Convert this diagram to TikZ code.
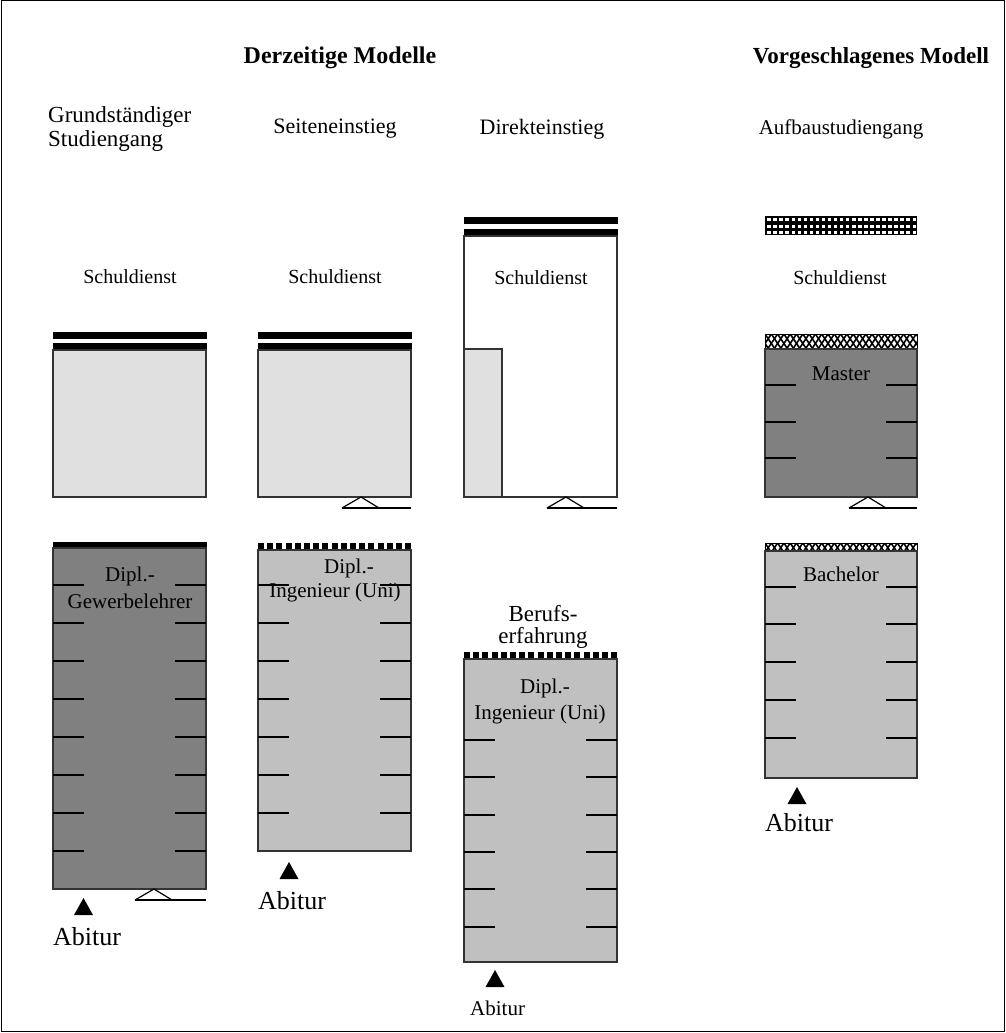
\documentclass[tikz,border=0pt]{standalone}
\usepackage{fontspec}
\setmainfont{Liberation Serif}
\definecolor{pale}{HTML}{E0E0E0}
\definecolor{mid}{HTML}{C0C0C0}
\definecolor{dark}{HTML}{808080}
% short ticks on both inner sides of a box: left x, right x, list of y
\newcommand\sideticks[3]{%
  \foreach \ty in {#3} {
    \draw[tick] (#1,\ty) -- ++(31,0);
    \draw[tick] (#2,\ty) -- ++(-31,0);
  }}
% open support triangle under a box: apex x, apex y, right end of base line
\newcommand\support[3]{%
  \draw[thin line] (#1-19,#2+11) -- (#1,#2) -- (#1+18,#2+11);
  \draw[thin line] (#1-19,#2+11) -- (#3,#2+11);}
% filled entry marker: apex x, apex y
\newcommand\entrymark[2]{%
  \fill (#1-9.5,#2+17) -- (#1,#2) -- (#1+9.5,#2+17) -- cycle;}
% row of black teeth on top of a box: left x, top y
\newcommand\teeth[2]{%
  \foreach \i in {0,...,16} \fill ({#1+\i*9.2},#2) rectangle ++(6,7.5);}
% diagonal crosshatch band: left x, top y, right x, bottom y
\newcommand\hatchband[4]{%
  \begin{scope}
    \clip (#1,#2) rectangle (#3,#4);
    \fill[white] (#1,#2) rectangle (#3,#4);
    \foreach \i in {-4,...,28} {
      \draw[line width=1.6pt] ({#1+\i*6.3},#2) -- ++(10,15);
      \draw[line width=1.6pt] ({#1+\i*6.3},#2) -- ++(-10,15);
    }
  \end{scope}
  \draw[line width=0.8pt] (#1,#2) rectangle (#3,#4);}
\begin{document}
\begin{tikzpicture}[x=1pt,y=-1pt,
  frame/.style={draw=black!80,line width=1.2pt},
  tick/.style={line width=1.6pt},
  thin line/.style={line width=1.2pt,line join=miter},
  head/.style={font=\fontsize{24}{28}\selectfont\bfseries,inner sep=0},
  colhead/.style={font=\fontsize{23}{27}\selectfont,inner sep=0},
  service/.style={font=\fontsize{20}{24}\selectfont,inner sep=0},
  boxlabel/.style={font=\fontsize{21}{25}\selectfont,inner sep=0},
  entry/.style={font=\fontsize{26}{30}\selectfont,inner sep=0,anchor=west},
]
\useasboundingbox (0,0) rectangle (1006,1033);
\draw[line width=1pt] (1,1) rectangle (1004,1031);

% headings
\node[head] (hcur) at (340,58) {Derzeitige Modelle};
\node[head,font=\fontsize{23}{27}\selectfont\bfseries] (hnew) at (871,58) {Vorgeschlagenes Modell};

\node[colhead,anchor=west] (c1a) at (48,117) {Grundständiger};
\node[colhead,anchor=west] (c1b) at (48,141) {Studiengang};
\node[colhead,font=\fontsize{22}{26}\selectfont] (c2) at (335,129) {Seiteneinstieg};
\node[colhead,font=\fontsize{22}{26}\selectfont] (c3) at (542,129) {Direkteinstieg};
\node[colhead,font=\fontsize{21}{25}\selectfont] (c4) at (841,129) {Aufbaustudiengang};

% ---------- column 1: Grundständiger Studiengang ----------
\fill (52.5,332) rectangle (206.5,338.5);
\fill (52.5,343) rectangle (206.5,350);
\draw[frame,fill=pale] (53,350) rectangle (206,497);
\node[service] (s1) at (130,277) {Schuldienst};

\fill (52.5,542) rectangle (206.5,548);
\draw[frame,fill=dark] (53,548) rectangle (206,889);
\sideticks{53}{206}{585,623,661,699,737,775,813,851}
\node[boxlabel] (d1a) at (130,576) {Dipl.-};
\node[boxlabel] (d1b) at (130,601) {Gewerbelehrer};
\support{154}{889}{206}
\entrymark{83.5}{898}
\node[entry] (a1) at (53,937) {Abitur};

% ---------- column 2: Seiteneinstieg ----------
\fill (257.5,332) rectangle (411.5,338.5);
\fill (257.5,343) rectangle (411.5,350);
\draw[frame,fill=pale] (258,350) rectangle (411,497);
\node[service] (s2) at (335,277) {Schuldienst};
\support{361}{497}{411}

\teeth{258}{543}
\draw[frame,fill=mid] (258,550) rectangle (411,851);
\sideticks{258}{411}{585,623,661,699,737,775,813}
\node[boxlabel] (d2a) at (349,568) {Dipl.-};
\node[boxlabel] (d2b) at (335,592) {Ingenieur (Uni)};
\entrymark{289}{862}
\node[entry] (a2) at (258,901) {Abitur};

% ---------- column 3: Direkteinstieg ----------
\fill (463.5,217) rectangle (617.5,224);
\fill (463.5,229) rectangle (617.5,236);
\draw[frame,fill=white] (464,236) rectangle (617,497);
\draw[frame,fill=pale] (464,349) rectangle (502,497);
\node[service] (s3) at (541,278) {Schuldienst};
\support{566}{497}{617}

\node[colhead] (b3a) at (543,614) {Berufs-};
\node[colhead] (b3b) at (543,638) {erfahrung};

\teeth{464}{651.5}
\draw[frame,fill=mid] (464,659) rectangle (617,962);
\sideticks{464}{617}{740,777,815,852,889,927}
\node[boxlabel] (d3a) at (545,688) {Dipl.-};
\node[boxlabel] (d3b) at (540,714) {Ingenieur (Uni)};
\entrymark{495}{970}
\node[entry,font=\fontsize{21}{25}\selectfont] (a3) at (470,1008) {Abitur};

% ---------- column 4: Aufbaustudiengang ----------
\fill (765,216) rectangle (917,235);
\foreach \r in {218.3,224.5,230.7} {
  \foreach \k in {0,...,24} \fill[white] ({767.3+\k*6.05},\r) rectangle ++(3.5,3);
}
\node[service] (s4) at (840,278) {Schuldienst};

\hatchband{765}{334}{917}{349}
\draw[frame,fill=dark] (765,349) rectangle (917,497);
\sideticks{765}{917}{385,422,458}
\node[boxlabel] (m4) at (841,374) {Master};
\support{868}{497}{917}

\hatchband{765}{543}{917}{551}
\draw[frame,fill=mid] (765,551) rectangle (917,778);
\sideticks{765}{917}{587,624,662,700,738}
\node[boxlabel] (b4) at (841,574) {Bachelor};
\entrymark{797}{787}
\node[entry] (a4) at (765,823) {Abitur};
\end{tikzpicture}
\end{document}
